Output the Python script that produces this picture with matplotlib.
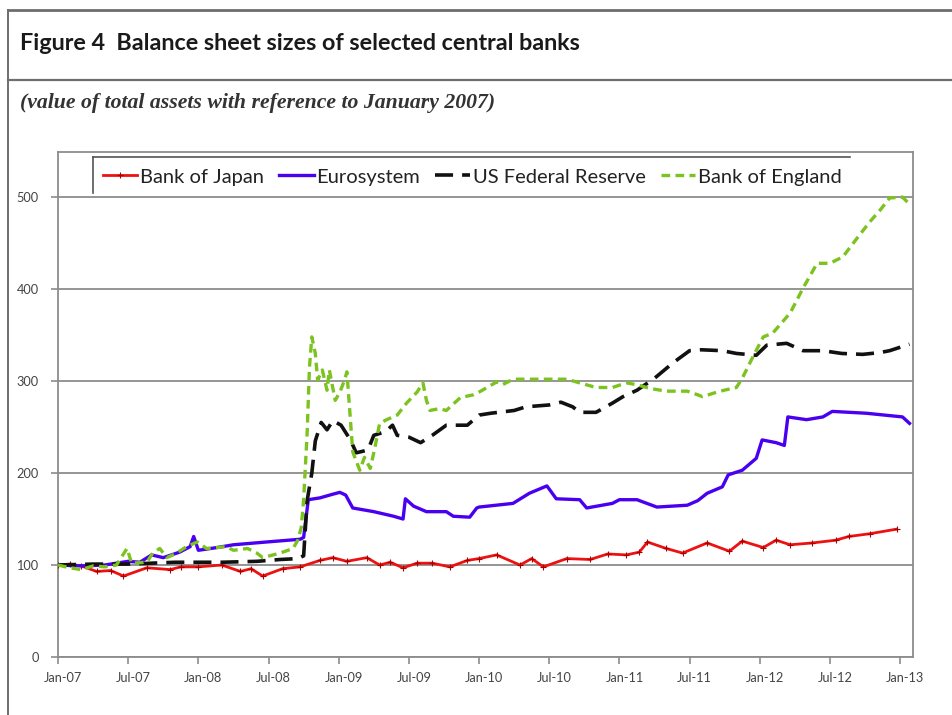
import matplotlib
matplotlib.use("Agg")
import matplotlib.pyplot as plt
from matplotlib.lines import Line2D
from matplotlib.transforms import ScaledTranslation

# ---- data (x = months since January 2007, y = index Jan-2007 = 100) ----
boj_month = [0, 1, 2, 3.3, 4.5, 5.6, 7.6, 9.6, 10.5, 12, 14, 15.6, 16.5, 17.5, 19.2, 20.7,
             22.4, 23.5, 24.7, 26.4, 27.5, 28.4, 29.5, 30.7, 32, 33.5, 35, 36, 37.5, 39.5,
             40.5, 41.5, 43.5, 45.5, 47, 48.6, 49.7, 50.4, 52, 53.4, 55.5, 57.4, 58.5, 60.3,
             61.4, 62.6, 64.5, 66.5, 67.6, 69.4, 71.7]
boj_value = [100, 101, 99, 93, 94, 88, 97, 95, 98, 98, 100, 93, 96, 88, 96, 98,
             105, 108, 104, 108, 100, 103, 97, 102, 102, 98, 105, 107, 111, 100,
             107, 98, 107, 106, 112, 111, 114, 125, 118, 113, 124, 115, 126, 119,
             127, 122, 124, 127, 131, 134, 139]

euro_month = [0, 2, 4, 5, 6, 7, 8, 9, 10.4, 11.3, 11.6, 12, 13.6, 15, 17.8, 20.7, 21, 21.4,
              22.4, 23.5, 24.1, 24.6, 25.2, 27, 28.7, 29.5, 29.7, 30.4, 31.5, 33.2, 33.8,
              35.2, 35.8, 36, 38.9, 40.3, 41.8, 42.6, 44.6, 45.2, 47.4, 48, 49.5, 51.2,
              53.8, 54.7, 55.5, 56.8, 57.3, 58.5, 59.7, 60.2, 61.4, 62.1, 62.4, 64, 65.4,
              66.2, 69.1, 72.2, 72.8]
euro_value = [100, 99, 100, 102, 104, 103, 111, 108, 114, 120, 131, 116, 119, 122, 125, 128,
              130, 171, 173, 177, 179, 176, 162, 158, 153, 150, 172, 164, 158, 158, 153,
              152, 162, 163, 167, 178, 186, 172, 171, 162, 167, 171, 171, 163,
              165, 170, 178, 185, 198, 203, 216, 236, 233, 230, 261, 258, 261,
              267, 265, 261, 254]

fed_month = [0, 3, 6, 8, 10, 14, 17, 19, 20.5, 21, 21.3, 21.7, 22, 22.5, 23, 23.5, 24.2, 25,
             25.5, 26.5, 27, 28, 28.6, 29, 30, 31, 32, 33.2, 35, 36, 37, 39, 40, 42, 43,
             44, 44.6, 46, 47.4, 48.3, 49.5, 51, 52.6, 54, 55, 56.8, 58, 59.7, 60.6, 62.3,
             63.7, 65.4, 67, 68.8, 70.3, 71.1, 72.8]
fed_value = [100, 101, 101, 102, 103, 103, 104, 106, 107, 110, 170, 200, 235, 255, 247, 257,
             252, 236, 222, 225, 241, 245, 252, 241, 239, 233, 241, 252, 252, 263, 265,
             268, 272, 274, 277, 272, 266, 266, 276, 283, 290, 303, 320, 333, 334, 333,
             330, 328, 339, 341, 333, 333, 330, 329, 331, 333, 340]

boe_month = [0, 1, 2, 3, 4, 5, 5.9, 6.3, 7.6, 8.1, 8.7, 9.3, 10, 11, 11.9, 12.7, 14.4, 15,
             16.2, 17, 17.5, 19, 20.1, 20.5, 20.8, 21, 21.3, 21.5, 21.7, 22, 22.2, 22.6, 23,
             23.2, 23.7, 24.1, 24.5, 24.7, 25, 25.2, 25.8, 26.2, 26.7, 27.1, 27.5, 28.1, 29,
             29.8, 30.7, 31.2, 31.5, 31.8, 32.6, 33.2, 34.4, 35.5, 36, 37.5, 38, 38.9, 41.8,
             43.5, 44.6, 46, 47.4, 48.6, 49.5, 50.6, 52, 53.8, 54.7, 55.1, 56.6, 58, 58.5,
             59.4, 60.3, 61.1, 62.6, 63.7, 64.9, 66, 67.1, 68.3, 69.4, 70.3, 71.1, 72.2, 72.9]
boe_value = [100, 97, 95, 99, 98, 100, 118, 102, 103, 113, 118, 108, 112, 120, 125, 118, 120, 116,
             118, 113, 108, 113, 118, 127, 141, 171, 243, 315, 348, 330, 301, 312, 290,
             312, 279, 288, 301, 310, 258, 223, 203, 217, 205, 228, 254, 258, 263,
             276, 288, 298, 279, 268, 270, 268, 282, 285, 288, 299, 296, 302, 302,
             302, 298, 293, 293, 298, 296, 292, 289, 289, 285, 283, 289, 293, 303,
             326, 348, 352, 374, 401, 428, 428, 435, 455, 473, 486, 499, 500, 491]

tick_months = [0, 6, 12, 18, 24, 30, 36, 42, 48, 54, 60, 66, 72]
tick_labels = ["Jan-07", "Jul-07", "Jan-08", "Jul-08", "Jan-09", "Jul-09", "Jan-10",
               "Jul-10", "Jan-11", "Jul-11", "Jan-12", "Jul-12", "Jan-13"]
y_ticks = [0, 100, 200, 300, 400, 500]

series_names = ["Bank of Japan", "Eurosystem", "US Federal Reserve", "Bank of England"]

# ---- figure ----
W, H = 952, 715
fig = plt.figure(figsize=(W / 100, H / 100), dpi=100)
fig.patch.set_facecolor("white")

def fx(px):
    return px / W

def fy(py):
    return 1 - py / H

# outer frame lines
frame_col = "#6e6e6e"
fig.add_artist(Line2D([fx(8), 1], [fy(10), fy(10)], color=frame_col, lw=2.0))
fig.add_artist(Line2D([fx(8), 1], [fy(80), fy(80)], color=frame_col, lw=1.6))
fig.add_artist(Line2D([fx(8), fx(8)], [fy(10), 0], color=frame_col, lw=1.4))

fig.text(fx(20), fy(43), "Figure 4  Balance sheet sizes of selected central banks",
         fontsize=16.8, fontweight="bold", family="Lato", va="center", ha="left",
         color="#1a1a1a")
fig.text(fx(20), fy(103), "(value of total assets with reference to January 2007)",
         fontsize=15.7, fontweight="bold", fontstyle="italic", family="Liberation Serif",
         va="center", ha="left", color="#333333")

ax = fig.add_axes([fx(58), fy(657), fx(913) - fx(58), fy(152) - fy(657)])
grey = "#8c8c8c"
for s in ax.spines.values():
    s.set_color(grey)
    s.set_linewidth(1.3)

ax.set_xlim(0, 73.1)
ax.set_ylim(0, 549)
ax.set_yticks(y_ticks)
ax.set_yticklabels([str(v) for v in y_ticks])
ax.set_xticks(tick_months)
ax.set_xticklabels(tick_labels)
ax.yaxis.grid(True, color=grey, lw=1.3)
ax.set_axisbelow(True)
ax.tick_params(axis="both", colors=grey, labelcolor="#444444", labelsize=9.2,
               length=5, width=1.2, direction="out")
ax.tick_params(axis="y", pad=9)
ax.tick_params(axis="x", pad=6)
for lab in ax.get_xticklabels() + ax.get_yticklabels():
    lab.set_family("Lato")
offset = ScaledTranslation(5 / 100, 0, fig.dpi_scale_trans)
for lab in ax.get_xticklabels():
    lab.set_transform(lab.get_transform() + offset)

l1, = ax.plot(boj_month, boj_value, color="#ee1111", lw=2.0, marker="+",
              markersize=4, markeredgecolor="#aa0000", markeredgewidth=0.8,
              label=series_names[0], zorder=3)
l2, = ax.plot(euro_month, euro_value, color="#4a00f0", lw=2.4,
              label=series_names[1], zorder=3)
l3, = ax.plot(fed_month, fed_value, color="#111111", lw=2.6, dashes=(5, 2.5),
              label=series_names[2], zorder=4)
l4, = ax.plot(boe_month, boe_value, color="#7cc320", lw=2.4, dashes=(2.6, 1.6),
              label=series_names[3], zorder=5)

leg = fig.legend(handles=[l1, l2, l3, l4], labels=series_names, ncol=4,
                 loc="center left", bbox_to_anchor=(fx(103), fy(177)),
                 frameon=False, handlelength=1.7, handletextpad=0.15,
                 columnspacing=0.75, borderaxespad=0, borderpad=0,
                 prop={"family": "Lato", "size": 14.5})
for t in leg.get_texts():
    t.set_color("#222222")

# legend box edges (top and left)
fig.add_artist(Line2D([fx(93), fx(850)], [fy(157), fy(157)], color="#555555", lw=1.2))
fig.add_artist(Line2D([fx(93), fx(93)], [fy(157), fy(193)], color="#555555", lw=1.2))

fig.savefig("out.png", dpi=100, facecolor="white")
